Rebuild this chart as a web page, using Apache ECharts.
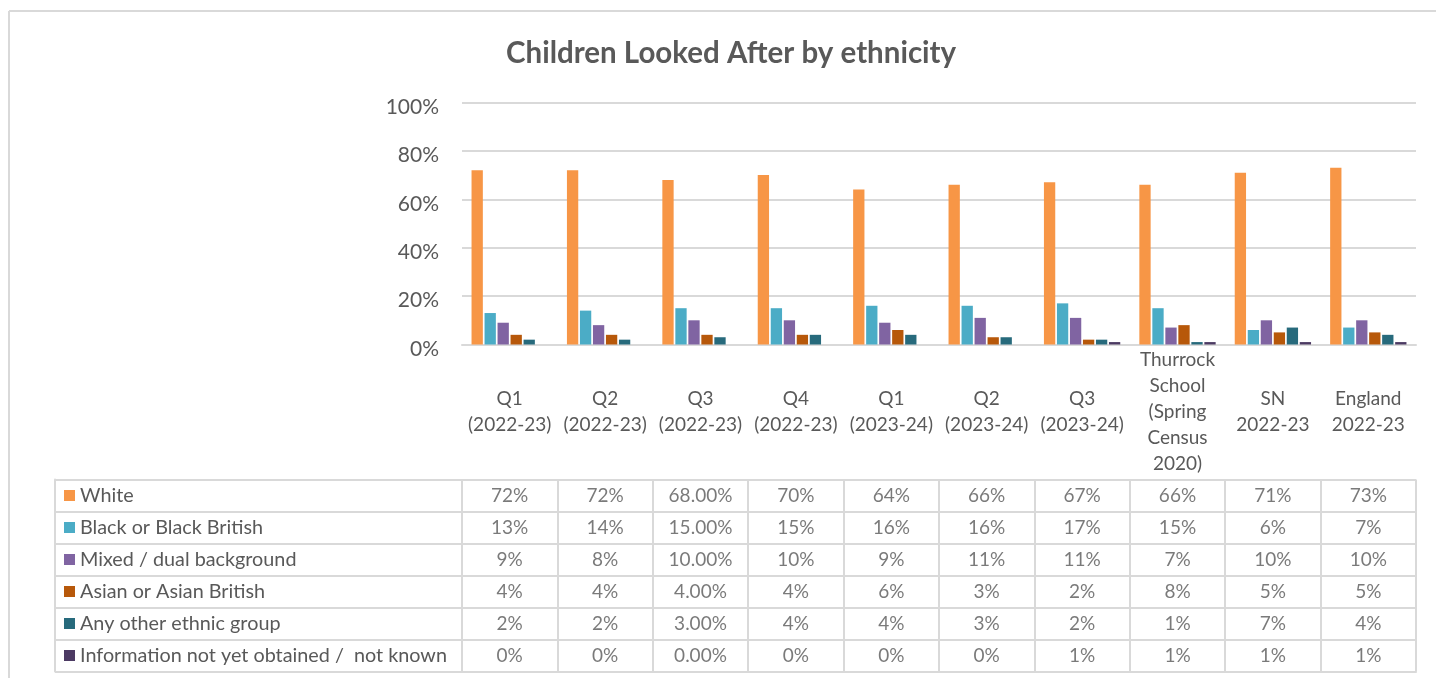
<!DOCTYPE html>
<html>
<head>
<meta charset="utf-8">
<script src="https://cdn.jsdelivr.net/npm/echarts@6/dist/echarts.min.js"></script>
<style>html,body{margin:0;padding:0;background:#fff}#c{width:1436px;height:678px}</style>
</head>
<body>
<div id="c"></div>
<script>
// ---- data ----
const categories = ['Q1\n(2022-23)','Q2\n(2022-23)','Q3\n(2022-23)','Q4\n(2022-23)','Q1\n(2023-24)','Q2\n(2023-24)','Q3\n(2023-24)','Thurrock\nSchool\n(Spring\nCensus\n2020)','SN\n2022-23','England\n2022-23'];
const seriesNames = ['White','Black or Black British','Mixed / dual background','Asian or Asian British','Any other ethnic group','Information not yet obtained /  not known'];
const white    = [72,72,68,70,64,66,67,66,71,73];
const black    = [13,14,15,15,16,16,17,15,6,7];
const mixed    = [9,8,10,10,9,11,11,7,10,10];
const asian    = [4,4,4,4,6,3,2,8,5,5];
const other    = [2,2,3,4,4,3,2,1,7,4];
const notKnown = [0,0,0,0,0,0,1,1,1,1];
const tableDecimals = [0,0,2,0,0,0,0,0,0,0];
const yTicks = [0,20,40,60,80,100];
const colors = ['#F79646','#4BACC6','#8064A2','#B7580A','#276A7C','#4C3A63'];
const allSeries = [white,black,mixed,asian,other,notKnown];

const FONT = 'Lato';
const TXT = '#595959';
const LINE = '#d9d9d9';

const bars = allSeries.map((d,i)=>({
  name: seriesNames[i], type:'bar', xAxisIndex:0, yAxisIndex:0,
  data:d, barCategoryGap:'20%', barGap:'15%',
  itemStyle:{color:colors[i]}, silent:true
}));

const cellData = [];
allSeries.forEach((d,r)=>d.forEach((v,c)=>cellData.push([c,r,v])));

const rich = {t:{fontFamily:FONT,fontSize:19.8,color:TXT,padding:[0,0,0,5]}};
colors.forEach((col,i)=>{rich['s'+i]={width:11,height:11,backgroundColor:col};});

const option = {
  animation:false,
  textStyle:{fontFamily:FONT},
  title:{text:'Children Looked After by ethnicity',left:501,top:33,
    textStyle:{fontFamily:FONT,fontSize:29.5,fontWeight:'bold',color:TXT}},
  graphic:[
    {type:'line',shape:{x1:9,y1:11,x2:1436,y2:11},style:{stroke:LINE,lineWidth:2},silent:true},
    {type:'line',shape:{x1:9,y1:11,x2:9,y2:678},style:{stroke:LINE,lineWidth:2},silent:true}
  ],
  grid:[
    {left:462,right:20,top:102.5,height:242},
    {left:462,right:20,top:479.5,height:192},
    {left:55,width:407,top:479.5,height:192}
  ],
  xAxis:[
    {gridIndex:0,type:'category',data:categories,
      axisLine:{lineStyle:{color:LINE,width:2}},
      axisTick:{length:135,lineStyle:{color:LINE,width:2}},
      axisLabel:{interval:0,margin:67,verticalAlign:'middle',lineHeight:26,fontSize:19,color:TXT,fontFamily:FONT}},
    {gridIndex:1,type:'category',data:categories,
      axisLine:{show:true,lineStyle:{color:LINE,width:2}},axisTick:{show:false},axisLabel:{show:false},
      splitLine:{show:true,lineStyle:{color:LINE,width:2}}},
    {gridIndex:2,type:'value',show:false,min:0,max:1}
  ],
  yAxis:[
    {gridIndex:0,type:'value',min:0,max:100,interval:20,
      axisLine:{show:false},axisTick:{show:false},
      axisLabel:{formatter:v=>'{a|'+v+'%}',margin:23,
        rich:{a:{fontSize:21,color:TXT,fontFamily:FONT,padding:[9,0,0,0]}}},
      splitLine:{lineStyle:{color:LINE,width:2}}},
    {gridIndex:1,type:'category',data:seriesNames,inverse:true,
      axisLine:{show:false},axisTick:{show:false},axisLabel:{show:false},
      splitLine:{show:true,lineStyle:{color:LINE,width:2}}},
    {gridIndex:2,type:'category',data:seriesNames,inverse:true,
      axisLine:{show:true,lineStyle:{color:LINE,width:2}},axisTick:{show:false},
      axisLabel:{inside:true,margin:9,align:'left',
        formatter:(v,i)=>'{s'+i+'|}{t|'+v+'}',rich:rich},
      splitLine:{show:true,lineStyle:{color:LINE,width:2}}}
  ],
  series:[...bars,
    {type:'scatter',xAxisIndex:1,yAxisIndex:1,symbolSize:0,data:cellData,silent:true,
      itemStyle:{color:'transparent'},
      label:{show:true,position:'inside',fontFamily:FONT,fontSize:19,color:TXT,
        formatter:p=>p.value[2].toFixed(tableDecimals[p.value[0]])+'%'}}
  ]
};
const chart = echarts.init(document.getElementById('c'),null,{renderer:'canvas'});
chart.setOption(option);
</script>
</body>
</html>
